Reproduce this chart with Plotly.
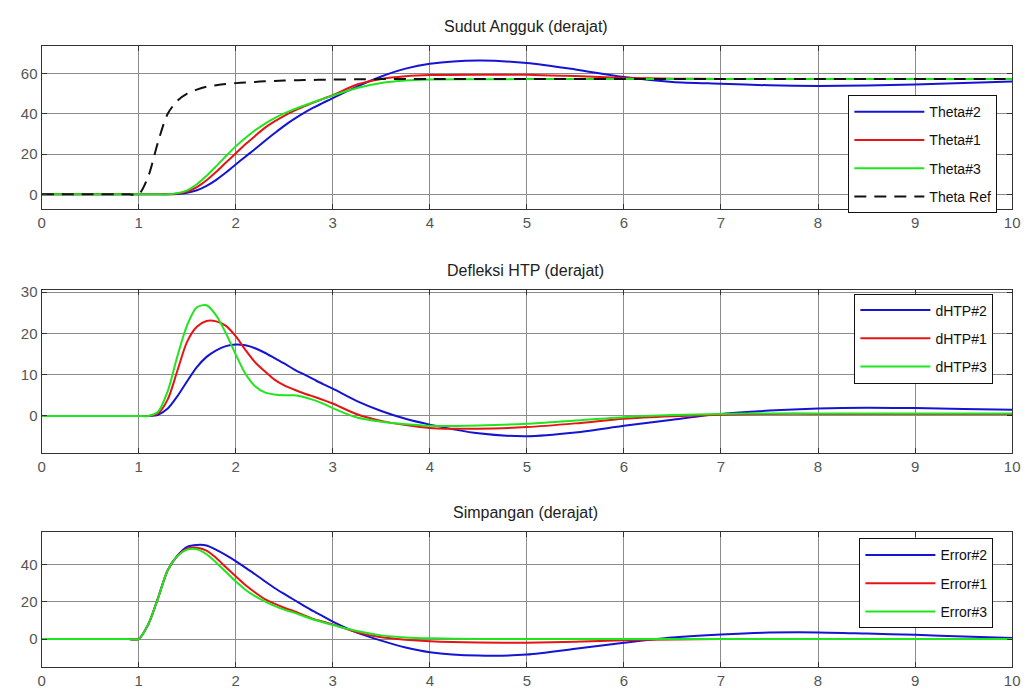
import plotly.graph_objects as go

# ---------------- data ----------------
t = [0, 0.5, 0.9, 1.0, 1.1, 1.2, 1.3, 1.4, 1.5, 1.6, 1.7, 1.8, 1.9, 2.0,
     2.1, 2.2, 2.3, 2.4, 2.5, 2.6, 2.7, 2.8, 2.9, 3.0, 3.25, 3.5, 3.75,
     4.0, 4.5, 5.0, 5.5, 6.0, 6.5, 7.0, 7.5, 8.0, 8.5, 9.0, 9.5, 10.0]

theta_ref = [0, 0, 0, 0, 9, 26, 40, 46.5, 50, 52, 53.4, 54.2, 54.8, 55.2,
             55.5, 55.8, 56.1, 56.3, 56.5, 56.6, 56.7, 56.8, 56.9, 57.0, 57.1, 57.2, 57.2,
             57.3, 57.3, 57.3, 57.3, 57.3, 57.3, 57.3, 57.3, 57.3, 57.3, 57.3, 57.3, 57.3]
theta2 = [0, 0, 0, 0, 0, 0, 0, 0.2, 0.8, 2.0, 4.2, 7.2, 10.8, 14.8,
          18.7, 22.5, 26.5, 30.3, 34.0, 37.3, 40.3, 43.0, 45.4, 47.8, 53.5, 58.5, 62.4,
          64.8, 66.4, 65.2, 62.0, 58.2, 55.8, 54.9, 54.1, 53.8, 54.0, 54.5, 55.3, 56.0]
theta1 = [0, 0, 0, 0, 0, 0, 0, 0.4, 1.4, 3.6, 7.0, 11.2, 15.8, 20.3,
          24.8, 29.0, 33.0, 36.2, 39.0, 41.4, 43.5, 45.5, 47.4, 49.2, 54.5, 57.3, 58.6,
          59.2, 59.4, 59.3, 58.7, 57.8, 57.4, 57.3, 57.3, 57.3, 57.3, 57.3, 57.3, 57.3]
theta3 = [0, 0, 0, 0, 0, 0, 0, 0.6, 2.0, 5.0, 9.2, 14.0, 19.0, 23.8,
          28.0, 31.8, 35.0, 37.8, 40.2, 42.2, 44.0, 45.7, 47.4, 49.0, 52.8, 55.3, 56.5,
          57.0, 57.1, 57.2, 57.3, 57.3, 57.3, 57.3, 57.3, 57.3, 57.3, 57.3, 57.3, 57.3]

dhtp2 = [0, 0, 0, 0, 0, 0.3, 1.8, 4.8, 8.4, 11.8, 14.3, 15.9, 16.9, 17.3,
         17.1, 16.4, 15.3, 14.0, 12.7, 11.3, 10.1, 8.9, 7.7, 6.6, 3.6, 1.2, -0.7,
         -2.1, -4.2, -4.9, -4.0, -2.4, -0.9, 0.5, 1.3, 1.8, 2.0, 1.9, 1.7, 1.5]
dhtp1 = [0, 0, 0, 0, 0, 0.6, 4.0, 11.0, 18.0, 21.6, 23.0, 22.9, 21.8, 19.3,
         16.0, 13.0, 10.8, 8.8, 7.4, 6.4, 5.5, 4.7, 3.9, 3.0, 0.4, -1.2, -2.2,
         -2.9, -3.1, -2.7, -1.8, -0.7, -0.1, 0.3, 0.5, 0.5, 0.5, 0.5, 0.5, 0.5]
dhtp3 = [0, 0, 0, 0, 0, 1.0, 6.0, 14.5, 22.0, 26.3, 26.8, 24.3, 20.0, 14.9,
         10.2, 7.2, 5.7, 5.2, 5.0, 5.0, 4.6, 3.9, 3.0, 1.9, -0.4, -1.4, -2.0,
         -2.4, -2.3, -1.9, -1.1, -0.3, 0.2, 0.5, 0.6, 0.6, 0.6, 0.6, 0.6, 0.6]

err2 = [0, 0, 0, 0, 8, 22, 37, 44.8, 49.5, 50.5, 50.2, 47.8, 45.0, 41.8,
        38.3, 34.8, 31.0, 27.4, 24.2, 21.1, 18.0, 15.0, 12.2, 9.4, 3.5, -0.8, -4.5,
        -7.0, -8.8, -8.3, -5.2, -2.0, 0.8, 2.5, 3.5, 3.6, 3.0, 2.3, 1.4, 0.6]
err1 = [0, 0, 0, 0, 8, 22, 37, 44.6, 48.5, 49.0, 47.5, 43.5, 38.5, 33.7,
        29.0, 25.0, 21.5, 19.0, 16.8, 15.0, 12.8, 10.8, 9.3, 7.9, 3.6, 1.0, -0.3,
        -1.1, -1.8, -1.9, -1.4, -0.6, -0.2, 0, 0, 0, 0, 0, 0, 0]
err3 = [0, 0, 0, 0, 8, 22, 37, 44.5, 48.0, 48.2, 45.5, 41.0, 36.0, 31.0,
        26.5, 23.0, 20.2, 17.8, 15.8, 14.2, 12.3, 10.5, 9.0, 7.6, 4.3, 2.0, 0.9,
        0.4, 0.1, 0.1, 0.1, 0.1, 0, 0, 0, 0, 0, 0, 0, 0]

titles = ["Sudut Angguk (derajat)", "Defleksi HTP (derajat)", "Simpangan (derajat)"]
x_ticks = [0, 1, 2, 3, 4, 5, 6, 7, 8, 9, 10]
y_ticks = [[0, 20, 40, 60], [0, 10, 20, 30], [0, 20, 40]]
y_ranges = [[-7.4, 73.8], [-9.0, 30.6], [-15.1, 57.2]]

# ---------------- styling ----------------
W, H = 1034, 697
BLUE, RED, GREEN, BLACK = "#1414d2", "#e61414", "#1ee61e", "#111111"
FONT = "Liberation Sans, Arial, Helvetica, sans-serif"

# panel pixel boxes (top, bottom)
panels_px = [(40, 205), (286, 451), (531, 667)]
x_dom = [38 / W, 1020 / W]

fig = go.Figure()

series = [
    [("Theta#2", theta2, BLUE, None), ("Theta#1", theta1, RED, None),
     ("Theta#3", theta3, GREEN, None), ("Theta Ref", theta_ref, BLACK, "12px,8px")],
    [("dHTP#2", dhtp2, BLUE, None), ("dHTP#1", dhtp1, RED, None), ("dHTP#3", dhtp3, GREEN, None)],
    [("Error#2", err2, BLUE, None), ("Error#1", err1, RED, None), ("Error#3", err3, GREEN, None)],
]

legend_pos = [(1005, 90), (1001, 290), (1001, 537)]

for i, group in enumerate(series):
    ax = "" if i == 0 else str(i + 1)
    leg = "legend" if i == 0 else f"legend{i + 1}"
    for name, ys, col, dash in group:
        fig.add_trace(go.Scatter(
            x=t, y=ys, name=name, mode="lines",
            line=dict(color=col, width=2, dash=dash, shape="spline", smoothing=0.8),
            xaxis="x" + ax, yaxis="y" + ax, legend=leg,
            legendgroup=name,
        ))

layout = dict(
    width=W, height=H,
    margin=dict(l=0, r=0, t=0, b=0),
    paper_bgcolor="white", plot_bgcolor="white",
    font=dict(family=FONT, size=14, color="#555555"),
    showlegend=True,
)

annotations = []
for i in range(3):
    top, bot = panels_px[i]
    ax = "" if i == 0 else str(i + 1)
    common = dict(
        showline=True, linecolor="#333333", linewidth=1, mirror="ticks",
        ticks="inside", ticklen=5, tickcolor="#333333",
        showgrid=True, gridcolor="#8c8c8c", gridwidth=1, zeroline=False,
        tickfont=dict(family=FONT, size=15, color="#555555"),
    )
    layout["xaxis" + ax] = dict(
        domain=x_dom, range=[0, 10], tickvals=x_ticks,
        anchor="y" + ax, **common)
    layout["yaxis" + ax] = dict(
        domain=[1 - bot / H, 1 - top / H], range=y_ranges[i], tickvals=y_ticks[i],
        anchor="x" + ax, **common)
    annotations.append(dict(
        text=titles[i], xref="paper", yref="paper", x=528 / W, y=1 - top / H,
        xanchor="center", yanchor="bottom", yshift=9, showarrow=False,
        font=dict(family=FONT, size=16, color="#222222"),
    ))
    lx, ly = legend_pos[i]
    legkey = "legend" if i == 0 else f"legend{i + 1}"
    layout[legkey] = dict(
        x=lx / W, y=1 - ly / H, xanchor="right", yanchor="top",
        bgcolor="white", bordercolor="#111111", borderwidth=1,
        font=dict(family=FONT, size=14, color="#111111"),
        tracegroupgap=7, itemwidth=70,
    )

layout["annotations"] = annotations
fig.update_layout(**layout)

fig.write_html(
    "out.html",
    post_script="document.body.style.margin='0px';document.body.style.overflow='hidden';",
    config={"displayModeBar": False},
)
